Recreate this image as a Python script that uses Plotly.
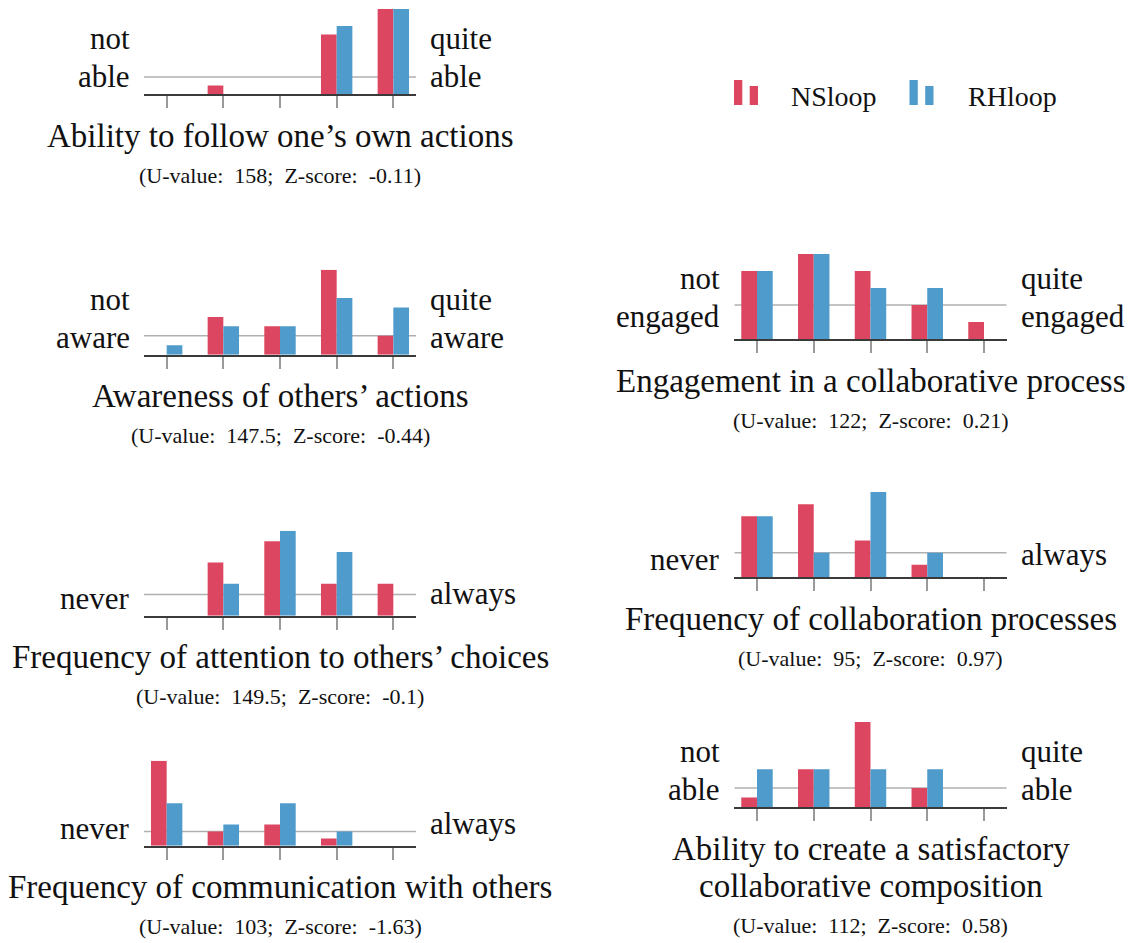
import plotly.graph_objects as go

# page is rendered with the browser's default 8px body margin
PAGE_W, PAGE_H = 1140, 943
OFF = 8
W, H = PAGE_W - OFF, PAGE_H - OFF

# ---------------- data ----------------
categories = [1, 2, 3, 4, 5]
series_names = ["NSloop", "RHloop"]

titles = [
    "Ability to follow one\u2019s own actions",
    "Awareness of others\u2019 actions",
    "Frequency of attention to others\u2019 choices",
    "Frequency of communication with others",
    "Engagement in a collaborative process",
    "Frequency of collaboration processes",
    "Ability to create a satisfactory<br>collaborative composition",
]
subtitles = [
    "(U-value: 158; Z-score: -0.11)",
    "(U-value: 147.5; Z-score: -0.44)",
    "(U-value: 149.5; Z-score: -0.1)",
    "(U-value: 103; Z-score: -1.63)",
    "(U-value: 122; Z-score: 0.21)",
    "(U-value: 95; Z-score: 0.97)",
    "(U-value: 112; Z-score: 0.58)",
]
left_labels = [
    ["not", "able"],
    ["not", "aware"],
    ["never"],
    ["never"],
    ["not", "engaged"],
    ["never"],
    ["not", "able"],
]
right_labels = [
    ["quite", "able"],
    ["quite", "aware"],
    ["always"],
    ["always"],
    ["quite", "engaged"],
    ["always"],
    ["quite", "able"],
]
ns_values = [
    [0, 1, 0, 7, 10],
    [0, 4, 3, 9, 2],
    [0, 5, 7, 3, 3],
    [12, 2, 3, 1, 0],
    [4, 5, 4, 2, 1],
    [5, 6, 3, 1, 0],
    [1, 4, 9, 2, 0],
]
rh_values = [
    [0, 0, 0, 8, 10],
    [1, 3, 3, 6, 5],
    [0, 3, 8, 6, 0],
    [6, 3, 6, 2, 0],
    [4, 5, 3, 3, 0],
    [5, 2, 7, 2, 0],
    [4, 4, 4, 4, 0],
]
reference_level = 2

# ---------------- style / layout ----------------
RED = "rgb(220,70,96)"
BLUE = "rgb(79,155,203)"
INK = "#111111"
FONT = "Liberation Serif, Times New Roman, serif"
TITLE_SIZE = 33
LABEL_SIZE = 31
SUB_SIZE = 22
LEG_SIZE = 28
DESC = 0.216  # font descent fraction

cols = {"L": (144, 416), "R": (734.3, 1006.7)}
panels = [("L", 94), ("L", 354.7), ("L", 615.7), ("L", 845.7),
          ("R", 339), ("R", 577), ("R", 807)]
PH = 85
XR = [0.6, 5.4]


def px(x):
    return (x - OFF) / W


def py(y):
    return 1 - (y - OFF) / H


fig = go.Figure()


def add_text(xpx, base_px, s, size, xanchor):
    fig.add_annotation(
        x=px(xpx), y=py(base_px + DESC * size),
        xref="paper", yref="paper", text=s, showarrow=False,
        xanchor=xanchor, yanchor="bottom",
        font=dict(family=FONT, size=size, color=INK),
        borderpad=0, borderwidth=0,
    )


for i, (col, base) in enumerate(panels):
    ax = "" if i == 0 else str(i + 1)
    x0, x1 = cols[col]
    top = base - PH
    ymax = max(max(ns_values[i]), max(rh_values[i]))
    fig.update_layout(**{
        "xaxis" + ax: dict(
            domain=[px(x0), px(x1)], range=XR, showline=True, linecolor="#3a3a3a",
            linewidth=2, ticks="outside", ticklen=12, tickwidth=1.5,
            tickcolor="#9a9a9a", tickvals=categories, showticklabels=False,
            showgrid=False, zeroline=False, anchor="y" + ax, fixedrange=True),
        "yaxis" + ax: dict(
            domain=[py(base), py(top)], range=[0, ymax], visible=False,
            anchor="x" + ax, fixedrange=True),
    })
    fig.add_bar(x=categories, y=ns_values[i], name=series_names[0],
                xaxis="x" + ax, yaxis="y" + ax, showlegend=False,
                marker=dict(color=RED, line=dict(width=0)))
    fig.add_bar(x=categories, y=rh_values[i], name=series_names[1],
                xaxis="x" + ax, yaxis="y" + ax, showlegend=False,
                marker=dict(color=BLUE, line=dict(width=0)))
    fig.add_shape(type="line", xref="x" + ax, yref="y" + ax,
                  x0=XR[0], x1=XR[1], y0=reference_level, y1=reference_level,
                  line=dict(color="#b0b0b0", width=1.5), layer="below")

    # side labels
    for labels, xpx, xanchor in ((left_labels[i], x0 - 14, "right"),
                                 (right_labels[i], x1 + 14, "left")):
        bottom = labels[-1]
        lift = 11.5 if any(c in "gjpqy" for c in bottom) else 6.5
        b = base - lift
        for k, word in enumerate(reversed(labels)):
            add_text(xpx, b - 37.7 * k, word, LABEL_SIZE, xanchor)

    # title + subtitle
    cx = (x0 + x1) / 2
    lines = titles[i].split("<br>")
    tb = base + 52.5
    for k, ln in enumerate(lines):
        add_text(cx, tb + 37.4 * k, ln, TITLE_SIZE, "center")
    add_text(cx, tb + 37.4 * (len(lines) - 1) + 36.5,
             subtitles[i].replace(" ", "\u2002"), SUB_SIZE, "center")

# ---------------- legend ----------------
leg_base = 106
for (bx, tx, color, name) in ((734, 791, RED, series_names[0]),
                              (909.5, 968, BLUE, series_names[1])):
    for (dx, h) in ((0, 25), (15.7, 19)):
        fig.add_shape(type="rect", xref="paper", yref="paper",
                      x0=px(bx + dx), x1=px(bx + dx + 8.3),
                      y0=py(105), y1=py(105 - h),
                      fillcolor=color, line=dict(width=0))
    add_text(tx, leg_base, name, LEG_SIZE, "left")

fig.update_layout(
    width=W, height=H, autosize=False,
    margin=dict(l=0, r=0, t=0, b=0),
    paper_bgcolor="white", plot_bgcolor="white",
    barmode="group", bargap=0.446, bargroupgap=0,
    showlegend=False,
)

fig.write_html("out.html", config={"displayModeBar": False})
